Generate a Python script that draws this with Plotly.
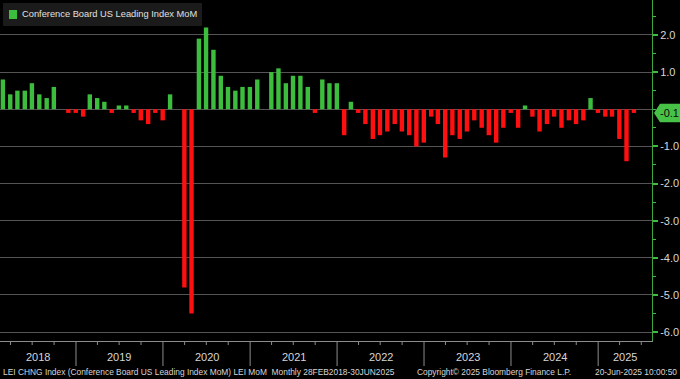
import plotly.graph_objects as go
import pandas as pd

# ---------------- data ----------------
series_name = "Conference Board US Leading Index MoM"
values_2018 = [0.8, 0.4, 0.5, 0.5, 0.7, 0.4, 0.3, 0.6, 0.0, -0.1, -0.1]          # Feb-Dec
values_2019 = [-0.2, 0.4, 0.3, 0.2, -0.1, 0.1, 0.1, -0.1, -0.3, -0.4, -0.1, -0.3]
values_2020 = [0.4, 0.0, -4.8, -5.5, 1.9, 2.2, 1.6, 0.9, 0.6, 0.5, 0.6, 0.6]
values_2021 = [0.8, 0.0, 1.0, 1.1, 0.7, 0.9, 0.9, 0.6, -0.1, 0.8, 0.7, 0.7]
values_2022 = [-0.7, 0.2, -0.1, -0.4, -0.8, -0.7, -0.6, -0.4, -0.6, -0.7, -1.0, -0.9]
values_2023 = [-0.2, -0.4, -1.3, -0.7, -0.8, -0.6, -0.3, -0.5, -0.7, -0.9, -0.5, -0.1]
values_2024 = [-0.5, 0.1, -0.2, -0.6, -0.4, -0.2, -0.5, -0.3, -0.4, -0.3, 0.3, -0.1]
values_2025 = [-0.2, -0.2, -0.8, -1.4, -0.1]                                       # Jan-May

values = (values_2018 + values_2019 + values_2020 + values_2021 +
          values_2022 + values_2023 + values_2024 + values_2025)
months = pd.date_range("2018-02-28", periods=len(values), freq="ME")

years = ["2018", "2019", "2020", "2021", "2022", "2023", "2024", "2025"]
y_ticks = [2, 1, -1, -2, -3, -4, -5, -6]
y_tick_labels = ["2.0", "1.0", "-1.0", "-2.0", "-3.0", "-4.0", "-5.0", "-6.0"]
x_start = pd.Timestamp("2018-02-16")
x_end = pd.Timestamp("2025-08-15")

footer_left = "LEI CHNG Index (Conference Board US Leading Index MoM) LEI MoM  Monthly 28FEB2018-30JUN2025"
footer_mid = "Copyright\u00a9 2025 Bloomberg Finance L.P."
footer_right = "20-Jun-2025 10:00:50"

# ---------------- style ----------------
GREEN = "#3dbd3d"
RED = "#ff1010"
AXIS_GREEN = "#3ea83e"
GRID = "#555555"
TXT = "#d6d6d6"
FONT = "Liberation Sans, Arial, sans-serif"

W, H = 652, 341          # plot area size in px
def px(x):
    return x / W
def py(y):
    return 1 - y / H

colors = [GREEN if v >= 0 else RED for v in values]

fig = go.Figure(go.Bar(
    x=months, y=values, marker=dict(color=colors, line=dict(width=0)),
    width=18.5 * 86400000, name=series_name, showlegend=False,
))

fig.update_layout(
    width=680, height=379,
    margin=dict(l=0, r=680 - W, t=0, b=379 - H, pad=0),
    paper_bgcolor="black", plot_bgcolor="black",
    font=dict(family=FONT, color=TXT),
    showlegend=False,
)
fig.update_xaxes(
    range=[x_start, x_end], showgrid=False, showticklabels=False, ticks="",
    showline=True, linecolor="#8c8c8c", linewidth=1, zeroline=False,
    automargin=False,
)
fig.update_yaxes(
    side="right", range=[-6.24, 2.94], automargin=False,
    tickvals=y_ticks, ticktext=y_tick_labels,
    showgrid=True, gridcolor=GRID, gridwidth=1,
    zeroline=True, zerolinecolor=GRID, zerolinewidth=1,
    showline=True, linecolor=AXIS_GREEN, linewidth=1,
    ticks="outside", tickcolor=GREEN, ticklen=5, tickwidth=2,
    tickfont=dict(color=TXT, size=11, family=FONT),
    minor=dict(dtick=0.5, tick0=0, ticks="outside", ticklen=3, tickwidth=1,
               tickcolor=GREEN, showgrid=False),
)

shapes = []
annotations = []

# year separators, quarter ticks and year labels on bottom band
for yr in years:
    y0 = pd.Timestamp(f"{yr}-01-01")
    y1 = pd.Timestamp(f"{int(yr) + 1}-01-01")
    if y0 > x_start:
        shapes.append(dict(type="line", xref="x", yref="paper", x0=y0, x1=y0,
                           y0=0, y1=-25 / H, line=dict(color="#8c8c8c", width=1)))
    for q in ("04", "07", "10"):
        qd = pd.Timestamp(f"{yr}-{q}-01")
        if x_start < qd < x_end:
            shapes.append(dict(type="line", xref="x", yref="paper", x0=qd, x1=qd,
                               y0=0, y1=-4 / H, line=dict(color="#8c8c8c", width=1)))
    a = max(y0, x_start)
    b = min(y1, x_end)
    mid = a + (b - a) / 2
    annotations.append(dict(x=mid, y=(H - 357) / H, xref="x", yref="paper",
                            text=yr, showarrow=False, xanchor="center", yanchor="middle",
                            font=dict(size=11, color=TXT, family=FONT)))

# footer
fy = (H - 372) / H
annotations.append(dict(x=px(1), y=fy, xref="paper", yref="paper", text=footer_left,
                        showarrow=False, xanchor="left", yanchor="middle",
                        font=dict(size=8.4, color=TXT, family=FONT)))
annotations.append(dict(x=px(415), y=fy, xref="paper", yref="paper", text=footer_mid,
                        showarrow=False, xanchor="left", yanchor="middle",
                        font=dict(size=8.4, color=TXT, family=FONT)))
annotations.append(dict(x=px(679), y=fy, xref="paper", yref="paper", text=footer_right,
                        showarrow=False, xanchor="right", yanchor="middle",
                        font=dict(size=8.4, color=TXT, family=FONT)))

# legend box
shapes.append(dict(type="rect", xref="paper", yref="paper",
                   x0=px(3), x1=px(202), y0=py(26), y1=py(3),
                   fillcolor="#1b1b1b", line=dict(width=0), layer="above"))
shapes.append(dict(type="rect", xref="paper", yref="paper",
                   x0=px(9), x1=px(17), y0=py(19), y1=py(10),
                   fillcolor=GREEN, line=dict(width=0), layer="above"))
annotations.append(dict(x=px(20), y=py(14.5), xref="paper", yref="paper",
                        text=series_name, showarrow=False, xanchor="left", yanchor="middle",
                        font=dict(size=9.3, color="#e0e0e0", family=FONT)))

# last value tag
last_value = values[-1]
half = 0.25
path = (f"M {px(654)} {last_value} L {px(660)} {last_value + half} "
        f"L {px(680)} {last_value + half} L {px(680)} {last_value - half} "
        f"L {px(660)} {last_value - half} Z")
shapes.append(dict(type="path", xref="paper", yref="y", path=path,
                   fillcolor="#47c247", line=dict(width=0), layer="above"))
annotations.append(dict(x=px(669), y=last_value, xref="paper", yref="y",
                        text=f"{last_value:.1f}", showarrow=False,
                        xanchor="center", yanchor="middle",
                        font=dict(size=11, color="#0a0a0a", family=FONT)))

fig.update_layout(shapes=shapes, annotations=annotations)
fig.write_html("out.html", config={"displayModeBar": False},
               post_script="document.body.style.margin='0px';")
